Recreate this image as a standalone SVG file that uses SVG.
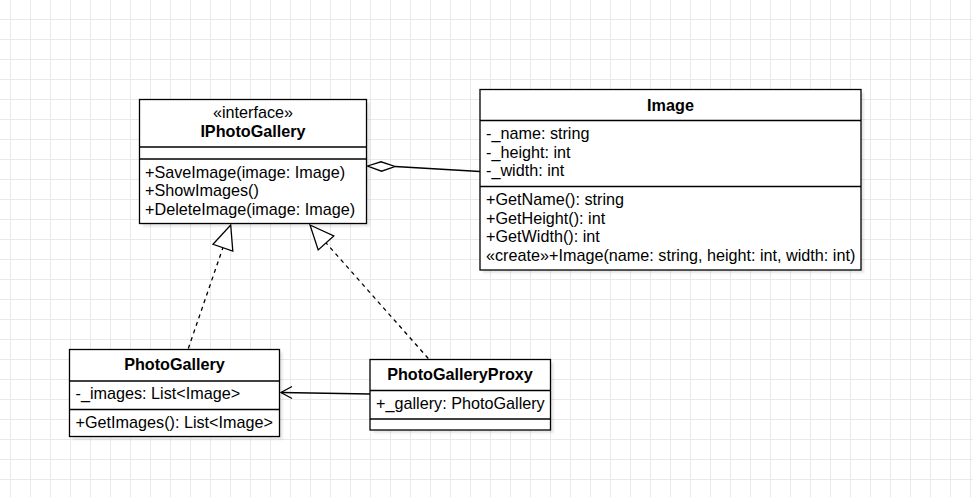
<svg xmlns="http://www.w3.org/2000/svg" width="973" height="497" viewBox="0 0 973 497">
  <defs>
    <pattern id="grid" x="10" y="19" width="20" height="20" patternUnits="userSpaceOnUse">
      <path d="M0.5 0 V20 M0 0.5 H20" fill="none" stroke="#e9e9e9" stroke-width="1"/>
    </pattern>
    <filter id="sh" x="-10%" y="-10%" width="130%" height="130%">
      <feGaussianBlur stdDeviation="1.2"/>
    </filter>
  </defs>
  <style>
    .box { fill: #ffffff; stroke: #000000; stroke-width: 1.3; }
    .shadow { fill: #000000; fill-opacity: 0.1; filter: url(#sh); }
    .sep { stroke: #000000; stroke-width: 1.3; fill: none; }
    text { font-family: "Liberation Sans", Arial, sans-serif; font-size: 16.2px; fill: #000000; }
    .title { font-weight: bold; text-anchor: middle; }
    .mid { text-anchor: middle; }
    .edge { fill: none; stroke: #000000; stroke-width: 1.3; }
    .dash { stroke-dasharray: 4 4; }
  </style>
  <rect x="0" y="0" width="973" height="497" fill="#ffffff"/>
  <rect x="0" y="0" width="973" height="497" fill="url(#grid)"/>

  <g id="connectors">
    <!-- aggregation IPhotoGallery <> Image -->
    <path class="edge" d="M395 166.5 L480 171.5"/>
    <path class="edge" d="M367.5 166 L381 161.8 L395 166.5 L381.5 171.2 Z" style="fill:#ffffff"/>
    <!-- realization PhotoGallery -> IPhotoGallery -->
    <path class="edge dash" d="M188.3 348.5 L222.9 247.7"/>
    <path class="edge" d="M230.7 225 L232.8 251.1 L213 244.3 Z" style="fill:#ffffff"/>
    <!-- realization PhotoGalleryProxy -> IPhotoGallery -->
    <path class="edge dash" d="M428.3 358.5 L326 242.9"/>
    <path class="edge" d="M310 225 L333.8 235.9 L318.2 249.9 Z" style="fill:#ffffff"/>
    <!-- association Proxy -> PhotoGallery -->
    <path class="edge" d="M370 394 L281 392.5"/>
    <path class="edge" d="M292 386.5 L281 392.5 L292 398.5"/>
  </g>

  <g id="IPhotoGallery">
    <rect class="shadow" x="142.5" y="102.5" width="227" height="124"/>
    <rect class="box" x="139.5" y="99.5" width="227" height="124"/>
    <line class="sep" x1="139.5" y1="147" x2="366.5" y2="147"/>
    <line class="sep" x1="139.5" y1="159" x2="366.5" y2="159"/>
    <text class="mid" x="253" y="118">«interface»</text>
    <text class="title" x="253" y="136.5">IPhotoGallery</text>
    <text x="145" y="177.5">+SaveImage(image: Image)</text>
    <text x="145" y="196">+ShowImages()</text>
    <text x="145" y="214.5">+DeleteImage(image: Image)</text>
  </g>

  <g id="Image">
    <rect class="shadow" x="483" y="92.5" width="381" height="180.5"/>
    <rect class="box" x="480" y="89.5" width="381" height="180.5"/>
    <line class="sep" x1="480" y1="120.5" x2="861" y2="120.5"/>
    <line class="sep" x1="480" y1="186.5" x2="861" y2="186.5"/>
    <text class="title" x="670.5" y="111">Image</text>
    <text x="486" y="139">-_name: string</text>
    <text x="486" y="157.5">-_height: int</text>
    <text x="486" y="176">-_width: int</text>
    <text x="486" y="205">+GetName(): string</text>
    <text x="486" y="223.5">+GetHeight(): int</text>
    <text x="486" y="242">+GetWidth(): int</text>
    <text x="486" y="260.5">«create»+Image(name: string, height: int, width: int)</text>
  </g>

  <g id="PhotoGallery">
    <rect class="shadow" x="72.5" y="352.5" width="210" height="87"/>
    <rect class="box" x="69.5" y="349.5" width="210" height="87"/>
    <line class="sep" x1="69.5" y1="381" x2="279.5" y2="381"/>
    <line class="sep" x1="69.5" y1="409.5" x2="279.5" y2="409.5"/>
    <text class="title" x="174.5" y="370">PhotoGallery</text>
    <text x="75.5" y="398.5">-_images: List&lt;Image&gt;</text>
    <text x="75.5" y="427.5">+GetImages(): List&lt;Image&gt;</text>
  </g>

  <g id="PhotoGalleryProxy">
    <rect class="shadow" x="373" y="362.5" width="180.5" height="70.5"/>
    <rect class="box" x="370" y="359.5" width="180.5" height="70.5"/>
    <line class="sep" x1="370" y1="390.5" x2="550.5" y2="390.5"/>
    <line class="sep" x1="370" y1="419" x2="550.5" y2="419"/>
    <text class="title" x="460" y="380">PhotoGalleryProxy</text>
    <text x="376" y="408.5">+_gallery: PhotoGallery</text>
  </g>
</svg>
